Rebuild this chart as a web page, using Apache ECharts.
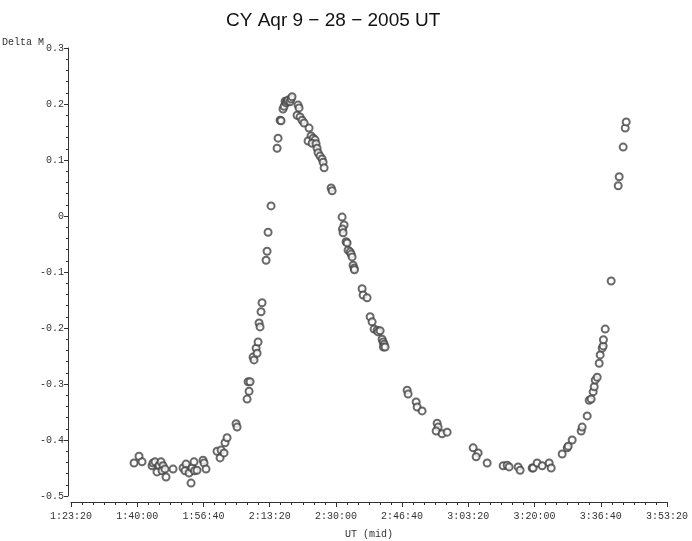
<!DOCTYPE html>
<html>
<head>
<meta charset="utf-8">
<script src="https://cdn.jsdelivr.net/npm/echarts@6/dist/echarts.min.js"></script>
<style>html,body{margin:0;padding:0;background:#fff}#c{width:692px;height:541px}</style>
</head>
<body>
<div id="c"></div>
<script>
// UT (mid) in seconds after 0:00:00
var utSeconds = [5952,6027,6073,6224,6239,6269,6299,6329,6360,6390,6375,6420,6435,6541,6692,6737,6722,6783,6813,6828,6858,6865,6903,6994,7009,7039,7205,7266,7251,7311,7326,7357,7493,7508,7659,7689,7674,7704,7749,7764,7795,7810,7825,7840,7855,7870,7885,7946,7961,7976,8021,8112,8127,8157,8172,8202,8218,8233,8248,8263,8278,8308,8323,8338,8429,8444,8414,8459,8490,8520,8595,8625,8580,8656,8686,8641,8701,8716,8731,8761,8792,8807,8822,8928,8943,9094,9124,9100,9109,9154,9169,9184,9215,9230,9245,9260,9275,9280,9396,9411,9471,9517,9547,9577,9622,9637,9668,9698,9713,9728,9718,9743,10076,10091,10212,10227,10302,10529,10544,10514,10604,10680,11073,11148,11118,11284,11526,11586,11616,11752,11782,11964,11979,12039,12115,12221,12251,12417,12493,12508,12568,12704,12719,12795,12825,12855,12885,12901,12916,12946,12976,12991,13021,13036,13040,13067,13157,13263,13278,13338,13369,13384];
var deltaM = [-0.441,-0.429,-0.439,-0.446,-0.441,-0.439,-0.457,-0.445,-0.439,-0.446,-0.455,-0.452,-0.466,-0.452,-0.450,-0.443,-0.455,-0.459,-0.477,-0.450,-0.439,-0.455,-0.454,-0.436,-0.441,-0.452,-0.420,-0.418,-0.432,-0.423,-0.405,-0.396,-0.371,-0.377,-0.327,-0.313,-0.296,-0.296,-0.252,-0.257,-0.236,-0.245,-0.225,-0.191,-0.198,-0.171,-0.155,-0.079,-0.063,-0.029,0.018,0.121,0.139,0.171,0.170,0.191,0.196,0.205,0.202,0.205,0.207,0.204,0.209,0.213,0.198,0.193,0.180,0.177,0.171,0.166,0.157,0.143,0.134,0.139,0.136,0.130,0.129,0.121,0.113,0.107,0.102,0.096,0.086,0.050,0.045,-0.002,-0.016,-0.023,-0.030,-0.046,-0.048,-0.061,-0.064,-0.068,-0.073,-0.088,-0.093,-0.096,-0.130,-0.141,-0.146,-0.180,-0.189,-0.202,-0.204,-0.207,-0.205,-0.220,-0.225,-0.229,-0.234,-0.234,-0.311,-0.318,-0.332,-0.341,-0.348,-0.370,-0.377,-0.384,-0.389,-0.386,-0.414,-0.423,-0.430,-0.441,-0.446,-0.445,-0.448,-0.448,-0.454,-0.450,-0.450,-0.441,-0.446,-0.441,-0.450,-0.425,-0.414,-0.411,-0.400,-0.384,-0.377,-0.357,-0.329,-0.327,-0.314,-0.305,-0.293,-0.288,-0.263,-0.248,-0.236,-0.232,-0.221,-0.202,-0.116,0.054,0.070,0.123,0.157,0.168];
var xMin = 5000, xMax = 14000, xStep = 1000;
var yMin = -0.5, yMax = 0.3, yStep = 0.1;
var titleText = 'CY Aqr 9 \u2212 28 \u2212 2005 UT';
var xName = 'UT (mid)';
var yName = 'Delta M';

function hms(s) {
  var h = Math.floor(s / 3600), m = Math.floor((s % 3600) / 60), sec = Math.round(s % 60);
  return h + ':' + (m < 10 ? '0' : '') + m + ':' + (sec < 10 ? '0' : '') + sec;
}
var pts = utSeconds.map(function (t, i) { return [t, deltaM[i]]; });
var ink = '#333';
var mono = '"Liberation Mono", "DejaVu Sans Mono", monospace';
var chart = echarts.init(document.getElementById('c'), null, { renderer: 'canvas' });
chart.setOption({
  animation: false,
  backgroundColor: '#fff',
  title: {
    text: titleText, left: 221, top: 6,
    textStyle: { fontFamily: '"Liberation Sans", Arial, sans-serif', fontWeight: 'normal', fontSize: 19, color: '#111' }
  },
  grid: { left: 71, right: 25, top: 48, bottom: 45, outerBoundsMode: 'none', containLabel: false },
  xAxis: {
    type: 'value', min: xMin, max: xMax, interval: xStep, offset: 6,
    name: xName, nameLocation: 'middle', nameGap: 27,
    nameTextStyle: { fontFamily: mono, fontSize: 10, color: ink },
    axisLine: { show: true, onZero: false, lineStyle: { color: ink, width: 1 } },
    axisTick: { show: true, length: 5, lineStyle: { color: ink } },
    minorTick: { show: true, splitNumber: 6, length: 3, lineStyle: { color: ink } },
    axisLabel: { formatter: function (v) { return hms(v); }, fontFamily: mono, fontSize: 10, color: ink, margin: 9 },
    splitLine: { show: false }
  },
  yAxis: {
    type: 'value', min: yMin, max: yMax, interval: yStep, offset: 3,
    name: yName, nameLocation: 'end', nameGap: 6, nameMoveOverlap: false,
    nameTextStyle: { fontFamily: mono, fontSize: 10, color: ink, align: 'right', verticalAlign: 'middle', padding: [0, 24, 0, 0] },
    axisLine: { show: true, onZero: false, lineStyle: { color: ink, width: 1 } },
    axisTick: { show: true, length: 4, lineStyle: { color: ink } },
    minorTick: { show: true, splitNumber: 5, length: 2, lineStyle: { color: ink } },
    axisLabel: { formatter: function (v) { return String(+v.toFixed(1)); }, fontFamily: mono, fontSize: 10, color: ink, margin: 4 },
    splitLine: { show: false }
  },
  series: [{
    type: 'scatter', data: pts, symbol: 'emptyCircle', symbolSize: 7,
    itemStyle: { color: '#444', borderColor: '#444', borderWidth: 0.6 }
  }]
});
</script>
</body>
</html>
